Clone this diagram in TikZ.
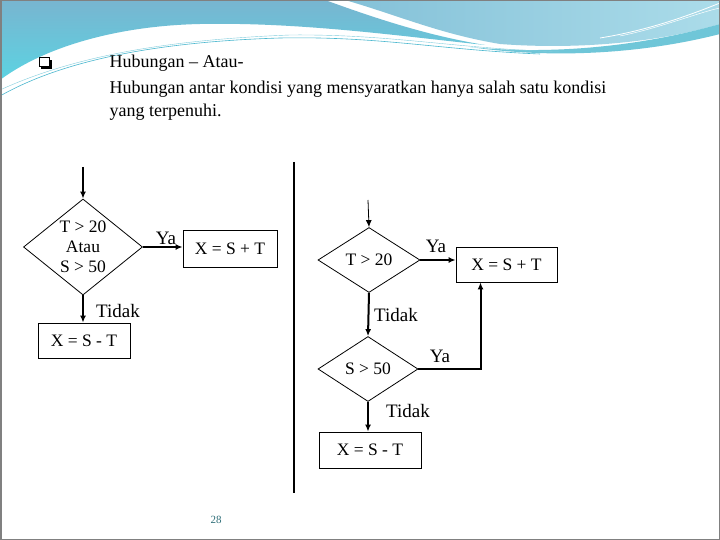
\documentclass[tikz,border=0pt]{standalone}
\usepackage{fontspec}
\setmainfont{Liberation Serif}
\usepackage{xcolor}
\usetikzlibrary{
    arrows,
    arrows.meta,
    shapes,
    calc,
    positioning
}
\definecolor{gelombang}{HTML}{78B5D0}
\definecolor{gelombangmuda}{HTML}{96D3E4}
\definecolor{sian}{HTML}{5CD3E2}
\definecolor{tosca}{HTML}{4BB8CF}
\definecolor{nomor}{HTML}{2E6E78}

\begin{document}
\begin{tikzpicture}[x=1pt, y=-1pt, >={Latex[length=7pt,width=6pt]},
    kotak/.style={draw, line width=0.8pt, inner sep=0pt, font=\fontsize{17.5}{20}\selectfont},
    belah/.style={draw, diamond, line width=0.8pt, inner sep=0pt, font=\fontsize{17.5}{20}\selectfont, align=center},
    ket/.style={font=\fontsize{19}{21}\selectfont},
    tebal/.style={line width=2pt}]
                        \useasboundingbox (0, 0) rectangle (720, 540);
                        \fill[white] (0, 0) rectangle (720, 540);

                        % latar gelombang
                        \shade[top color=gelombang, bottom color=sian]
                        (0, 0) -- (325, 0) .. controls (380, 20) and (430, 36) .. (485, 45)
                        .. controls (400, 36) and (300, 22) .. (200, 24)
                        .. controls (110, 26) and (40, 50) .. (0, 80) -- cycle;
                        \shade[left color=gelombang!60!gelombangmuda, right color=gelombangmuda!80]
                        (345, 0) -- (720, 0) -- (720, 24) .. controls (660, 42) and (580, 50) .. (500, 44)
                        .. controls (440, 34) and (400, 16) .. (345, 0) -- cycle;
                        \fill[tosca!80]
                        (470, 47) .. controls (560, 56) and (650, 44) .. (720, 24) -- (720, 34)
                        .. controls (650, 52) and (560, 60) .. (470, 47) -- cycle;
                        \draw[tosca, line width=0.6pt]
                        (0, 96) .. controls (60, 62) and (150, 42) .. (280, 38) .. controls (380, 36) and (440, 50) .. (540, 54);
                        \draw[tosca!70, line width=0.4pt]
                        (0, 90) .. controls (70, 58) and (160, 40) .. (290, 35) .. controls (390, 34) and (450, 48) .. (560, 52);
                        \draw[white, line width=0.8pt] (600, 38) .. controls (650, 30) and (690, 15) .. (720, 3);
                        \draw[white, line width=0.5pt] (620, 36) .. controls (660, 28) and (700, 12) .. (720, 8);

                        % judul
                        \fill (41, 60) rectangle (52, 69);
                        \draw[fill=white, line width=0.8pt] (39.5, 57.5) rectangle (49.5, 66.5);
                        \node[anchor=base west, font=\fontsize{18}{23}\selectfont] (judul) at (106, 68) {Hubungan – Atau-};
                        \node[anchor=base west, font=\fontsize{18}{23}\selectfont] (isi1) at (106, 94) {Hubungan antar kondisi yang mensyaratkan hanya salah satu kondisi};
                        \node[anchor=base west, font=\fontsize{18}{23}\selectfont] (isi2) at (106, 117) {yang terpenuhi.};

                        % diagram kiri
                        \coordinate (masuk1) at (83, 167);
                        \node[belah, aspect=1.25, minimum width=119pt, minimum height=96pt] (atau) at (83, 247) {T > 20\\Atau\\S > 50};
                        \node[kotak, minimum width=94pt, minimum height=37pt] (tambah1) at (230, 248.5) {X = S + T};
                        \node[kotak, minimum width=92pt, minimum height=35pt] (kurang1) at (84, 340.5) {X = S - T};

                        \draw[tebal, ->] (masuk1) -- (atau.north);
                        \draw[tebal, ->] (atau.east) -- (atau.east -| tambah1.west);
                        \draw[tebal, ->] (atau.south) -- (atau.south |- kurang1.north);

                        \node[ket] (ya1) at (166, 238) {Ya};
                        \node[ket] (tidak1) at (118, 311) {Tidak};

                        % garis pemisah
                        \draw[line width=1.2pt] (294, 162) -- (294, 493);

                        % diagram kanan
                        \coordinate (masuk2) at (368, 200);
                        \node[belah, aspect=1.6, minimum width=102pt, minimum height=65pt] (t20) at (369, 260) {T > 20};
                        \node[kotak, minimum width=101pt, minimum height=35pt] (tambah2) at (506.5, 264.5) {X = S + T};
                        \node[belah, aspect=1.6, minimum width=100pt, minimum height=65pt] (s50) at (368, 369) {S > 50};
                        \node[kotak, minimum width=102pt, minimum height=36pt] (kurang2) at (370, 450) {X = S - T};

                        \draw[line width=0.8pt, ->] (masuk2) -- (t20.north);
                        \draw[tebal, ->] (t20.east) -- (t20.east -| tambah2.west);
                        \draw[tebal, ->] (t20.south) -- (s50.north);
                        \draw[tebal, ->] (s50.south) -- (s50.south |- kurang2.north);
                        \draw[tebal, ->] (s50.east) -| ([xshift=-26pt]tambah2.south);

                        \node[ket] (ya2) at (436, 246) {Ya};
                        \node[ket] (tidak2) at (396, 315) {Tidak};
                        \node[ket] (ya3) at (440, 356) {Ya};
                        \node[ket] (tidak3) at (408, 411) {Tidak};

                        % nomor halaman
                        \node[font=\fontsize{11}{13}\selectfont, text=nomor] (hal) at (216, 520) {28};

                        \draw[gray, line width=1.5pt] (0.75, 0.75) rectangle (719.25, 539.25);
                    \end{tikzpicture}
\end{document}
